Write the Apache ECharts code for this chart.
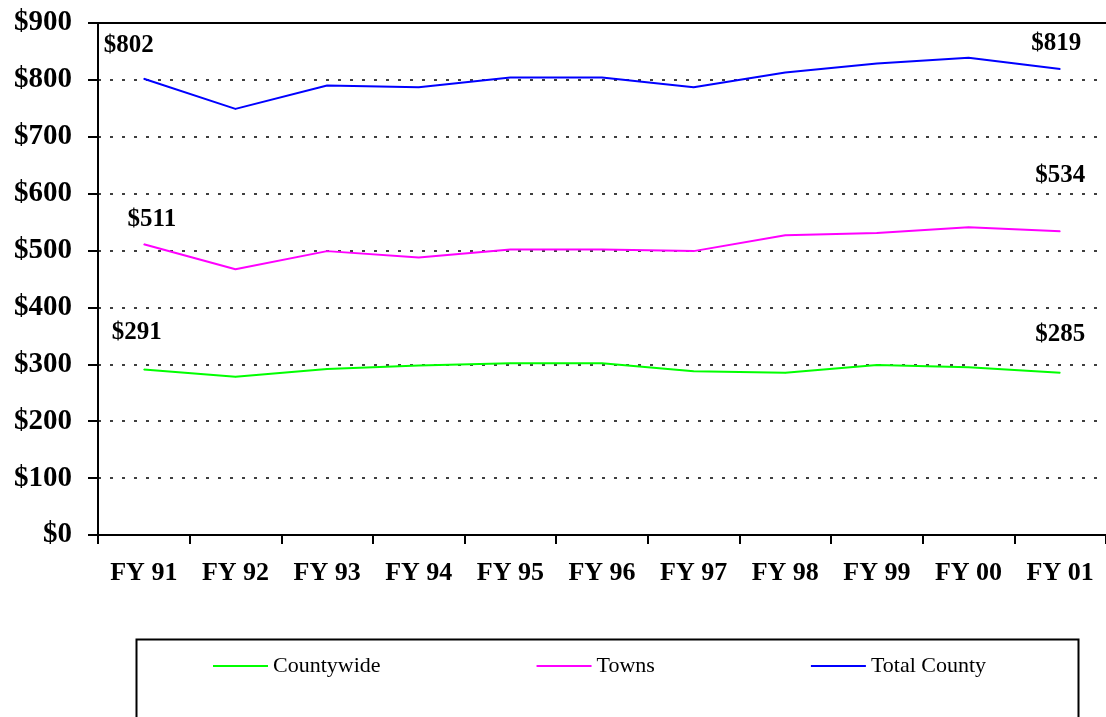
<!DOCTYPE html>
<html>
<head>
<meta charset="utf-8">
<script src="https://cdn.jsdelivr.net/npm/echarts@6/dist/echarts.min.js"></script>
<style>
  html, body { margin: 0; padding: 0; background: #fff; }
  #main { width: 1106px; height: 717px; }
</style>
</head>
<body>
<div id="main"></div>
<script>
// data
const categories = ['FY 91', 'FY 92', 'FY 93', 'FY 94', 'FY 95', 'FY 96', 'FY 97', 'FY 98', 'FY 99', 'FY 00', 'FY 01'];
const countywide = [291, 278, 292, 298, 302, 302, 288, 285, 299, 295, 285];
const towns = [511, 467, 499, 488, 502, 502, 499, 527, 531, 541, 534];
const totalCounty = [802, 749, 790, 787, 804, 804, 787, 813, 829, 839, 819];
const seriesNames = ['Countywide', 'Towns', 'Total County'];

const SERIF = '"Liberation Serif", "Times New Roman", serif';

// label only the first and last point, offsets are by hand
function withEndLabels(values, firstOffset, lastOffset) {
  return values.map((v, i) => {
    if (i === 0 || i === values.length - 1) {
      return {
        value: v,
        label: {
          show: true,
          position: 'top',
          offset: i === 0 ? firstOffset : lastOffset,
          formatter: '${c}',
          fontFamily: SERIF,
          fontWeight: 'bold',
          fontSize: 25,
          color: '#000'
        }
      };
    }
    return v;
  });
}

function lineSeries(name, color, data) {
  return {
    name: name,
    type: 'line',
    data: data,
    symbol: 'circle',
    symbolSize: 1,
    itemStyle: { color: color },
    lineStyle: { color: color, width: 2 },
    emphasis: { disabled: true },
    z: 5
  };
}

const chart = echarts.init(document.getElementById('main'));

const option = {
  backgroundColor: '#fff',
  animation: false,
  grid: {
    left: 98,
    right: 0,
    top: 23,
    bottom: 182
  },
  legend: {
    data: seriesNames,
    left: 208,
    top: 650,
    icon: 'rect',
    itemWidth: 55,
    itemHeight: 2,
    itemGap: 156,
    textStyle: {
      fontFamily: SERIF,
      fontSize: 22,
      color: '#000'
    }
  },
  graphic: [{
    type: 'rect',
    left: 134,
    top: 637,
    shape: { width: 942, height: 140 },
    style: { fill: 'none', stroke: '#000', lineWidth: 2 },
    silent: true
  }],
  xAxis: [{
    type: 'category',
    data: categories,
    boundaryGap: true,
    axisLine: { lineStyle: { color: '#000', width: 2 } },
    axisTick: { show: true, inside: false, length: 9, lineStyle: { color: '#000', width: 2 } },
    axisLabel: {
      margin: 25,
      fontFamily: SERIF,
      fontWeight: 'bold',
      fontSize: 26,
      color: '#000'
    },
    splitLine: { show: false }
  }, {
    type: 'category',
    data: categories,
    position: 'top',
    axisLine: { lineStyle: { color: '#000', width: 2 } },
    axisTick: { show: false },
    axisLabel: { show: false },
    splitLine: { show: false }
  }],
  yAxis: {
    type: 'value',
    min: 0,
    max: 900,
    interval: 100,
    axisLine: { show: true, lineStyle: { color: '#000', width: 2 } },
    axisTick: { show: true, inside: false, length: 10, lineStyle: { color: '#000', width: 2 } },
    axisLabel: {
      margin: 26,
      formatter: '${value}',
      fontFamily: SERIF,
      fontWeight: 'bold',
      fontSize: 29,
      color: '#000'
    },
    splitLine: {
      show: true,
      lineStyle: { color: '#000', width: 1.5, type: [3, 9] }
    }
  },
  series: [
    lineSeries(seriesNames[0], '#00FF00', withEndLabels(countywide, [-7, -19], [0, -20])),
    lineSeries(seriesNames[1], '#FF00FF', withEndLabels(towns, [8, -7], [0, -38])),
    lineSeries(seriesNames[2], '#0000FF', withEndLabels(totalCounty, [-15, -15], [-4, -8]))
  ]
};

chart.setOption(option);
</script>
</body>
</html>
